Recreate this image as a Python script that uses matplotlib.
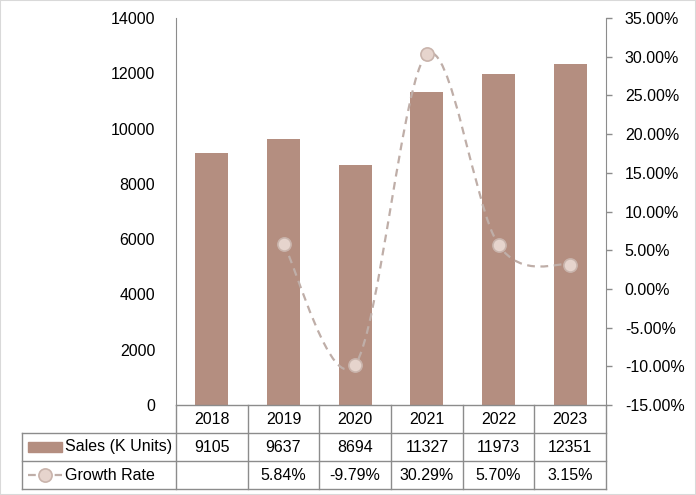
import matplotlib
matplotlib.use("Agg")
import matplotlib.pyplot as plt
from matplotlib.path import Path
from matplotlib.patches import PathPatch, Rectangle
from matplotlib.lines import Line2D
from matplotlib.ticker import FuncFormatter
import matplotlib.transforms as mtransforms

plt.rcParams['font.family'] = ['Liberation Sans', 'DejaVu Sans']

years = ['2018', '2019', '2020', '2021', '2022', '2023']
sales = [9105, 9637, 8694, 11327, 11973, 12351]
growth = [None, 5.84, -9.79, 30.29, 5.70, 3.15]
sales_label = 'Sales (K Units)'
growth_label = 'Growth Rate'

bar_color = '#B48E80'
line_color = '#BFAEA8'
mk_face = '#E6D4CD'
mk_edge = '#C9B4AC'
grid_c = '#8C8C8C'
fs = 11.5

fig = plt.figure(figsize=(6.96, 4.95), dpi=100)
ax = fig.add_axes([176 / 696, 1 - 405 / 495, 430 / 696, 387 / 495])
ax2 = ax.twinx()

x = list(range(len(years)))
ax.bar(x, sales, width=0.46, color=bar_color, zorder=2)
ax.set_xlim(-0.5, len(years) - 0.5)
ax.set_ylim(0, 14000)
ax.set_yticks(range(0, 14001, 2000))
ax.set_xticks([])
ax.tick_params(axis='y', length=0, pad=15, labelsize=fs)
for s in ['top', 'right', 'bottom']:
    ax.spines[s].set_visible(False)
ax.spines['left'].set_color(grid_c)

# growth line on secondary axis, smoothed like Excel (Catmull-Rom beziers)
ax2.set_ylim(-15, 35)
ax2.set_yticks(range(-15, 36, 5))
ax2.yaxis.set_major_formatter(FuncFormatter(lambda v, p: f'{v:.2f}%'))
ax2.tick_params(axis='y', length=4.5, width=1, color=grid_c, pad=9, labelsize=fs)
for s in ['top', 'left', 'bottom']:
    ax2.spines[s].set_visible(False)
ax2.spines['right'].set_color(grid_c)

pts = [(i, g) for i, g in zip(x, growth) if g is not None]
verts = [pts[0]]
codes = [Path.MOVETO]
n = len(pts)
for k in range(n - 1):
    p0 = pts[max(k - 1, 0)]
    p1 = pts[k]
    p2 = pts[k + 1]
    p3 = pts[min(k + 2, n - 1)]
    c1 = (p1[0] + (p2[0] - p0[0]) / 6, p1[1] + (p2[1] - p0[1]) / 6)
    c2 = (p2[0] - (p3[0] - p1[0]) / 6, p2[1] - (p3[1] - p1[1]) / 6)
    verts += [c1, c2, p2]
    codes += [Path.CURVE4] * 3
ax2.add_patch(PathPatch(Path(verts, codes), fill=False, edgecolor=line_color,
                        lw=1.6, linestyle=(0, (3.5, 2.5)), zorder=3))
ax2.plot([p[0] for p in pts], [p[1] for p in pts], linestyle='none', marker='o',
         ms=9.5, mfc=mk_face, mec=mk_edge, mew=1.2, zorder=4)

# data table below the plot
row_h = 28 / 387
tab_left = -154 / 430
trans = ax.transAxes
blend = mtransforms.blended_transform_factory(ax.transData, ax.transAxes)
lines = []
lines.append(([0, 1], [0, 0]))
for r in (1, 2, 3):
    lines.append(([tab_left, 1], [-r * row_h, -r * row_h]))
lines.append(([tab_left, tab_left], [-row_h, -3 * row_h]))
for c in range(len(years) + 1):
    xf = c / len(years)
    lines.append(([xf, xf], [0, -3 * row_h]))
for xs, ys in lines:
    ax.add_line(Line2D(xs, ys, transform=trans, color=grid_c, lw=1, clip_on=False))

for i, yv in enumerate(years):
    ax.text(i, -0.5 * row_h, yv, transform=blend, ha='center', va='center', fontsize=fs)
for i, sv in enumerate(sales):
    ax.text(i, -1.5 * row_h, str(sv), transform=blend, ha='center', va='center', fontsize=fs)
for i, gv in enumerate(growth):
    if gv is not None:
        ax.text(i, -2.5 * row_h, f'{gv:.2f}%', transform=blend, ha='center', va='center', fontsize=fs)

# legend keys inside the table
px = 1 / 430
ax.add_patch(Rectangle((tab_left + 6 * px, -1.5 * row_h - 5 / 387), 34 * px, 10 / 387,
                       transform=trans, color=bar_color, clip_on=False))
ax.add_line(Line2D([tab_left + 6 * px, tab_left + 40 * px], [-2.5 * row_h] * 2, transform=trans,
                   color=line_color, lw=1.6, linestyle=(0, (3.5, 2.5)), clip_on=False))
ax.add_line(Line2D([tab_left + 23 * px], [-2.5 * row_h], transform=trans, marker='o', ms=9.5,
                   mfc=mk_face, mec=mk_edge, mew=1.2, clip_on=False))
ax.text(tab_left + 43 * px, -1.5 * row_h, sales_label, transform=trans, ha='left', va='center', fontsize=fs)
ax.text(tab_left + 43 * px, -2.5 * row_h, growth_label, transform=trans, ha='left', va='center', fontsize=fs)

# chart border
fig.patches.append(Rectangle((0, 0), 1, 1, transform=fig.transFigure, fill=False,
                             edgecolor='#D9D9D9', lw=1.5))

fig.savefig('out.png', dpi=100)
